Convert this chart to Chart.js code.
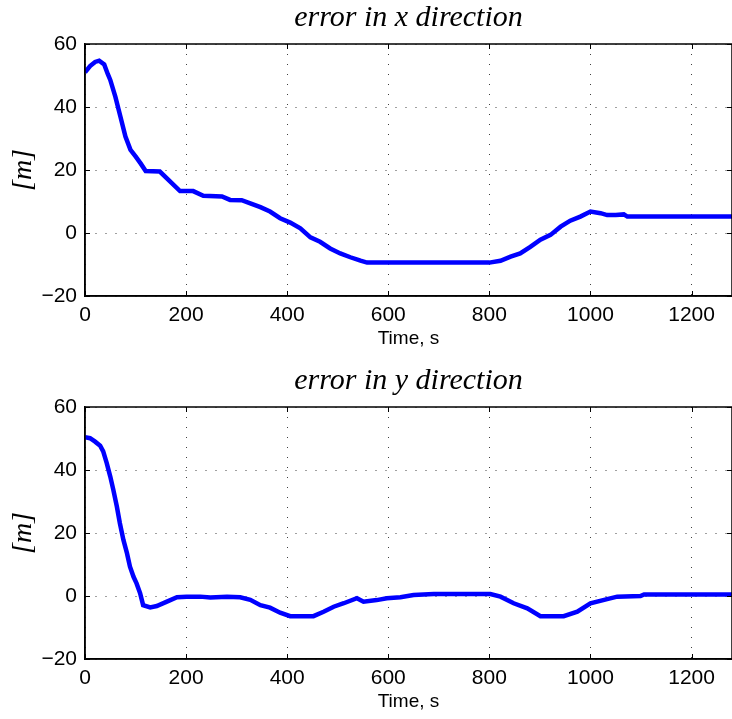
<!DOCTYPE html>
<html>
<head>
<meta charset="utf-8">
<script src="https://cdn.jsdelivr.net/npm/chart.js@4.4.1/dist/chart.umd.min.js"></script>
<style>
  html, body { margin: 0; padding: 0; background: #fff; overflow: hidden; }
  canvas { display: block; }
</style>
</head>
<body>
<canvas id="chartX" width="732" height="363"></canvas>
<canvas id="chartY" width="732" height="363"></canvas>
<script>
// x tick labels and y tick range shared by both panels
const timeTicks = [0, 200, 400, 600, 800, 1000, 1200];
const errTicks = [-20, 0, 20, 40, 60];

// error in x direction
const timeX = [0, 10, 20, 28, 38, 45, 50, 60, 70, 80, 90, 100, 110, 120, 148, 188, 214, 234, 271, 287,
  310, 327, 347, 366, 386, 406, 426, 446, 465, 485, 505, 525, 545, 558, 800, 822, 842, 861, 881, 901,
  921, 941, 960, 980, 1000, 1020, 1033, 1050, 1066, 1073, 1280];
const errX = [51, 53, 54.3, 54.7, 53.5, 50.5, 48.6, 43.3, 37, 30.6, 26.4, 24.3, 22.1, 19.7, 19.5, 13.3, 13.3, 11.8, 11.6, 10.5,
  10.4, 9.4, 8.2, 6.8, 4.7, 3.3, 1.5, -1.4, -2.8, -4.9, -6.5, -7.7, -8.8, -9.4, -9.4, -8.8, -7.5, -6.5, -4.4, -2.1,
  -0.6, 2, 3.9, 5.2, 6.8, 6.3, 5.7, 5.7, 5.9, 5.2, 5.2];

// error in y direction
const timeY = [0, 10, 20, 30, 36, 43, 50, 56, 63, 69, 76, 83, 89, 96, 102, 109, 115, 129, 142, 162,
  182, 201, 228, 248, 281, 307, 327, 347, 366, 386, 406, 452, 472, 492, 512, 538, 551, 577, 597, 624,
  650, 690, 756, 802, 822, 848, 875, 901, 947, 974, 1000, 1033, 1053, 1099, 1106, 1280];
const errY = [50.4, 50.1, 49, 47.7, 45.9, 42.2, 37.9, 33.7, 28.4, 23.1, 17.8, 13.6, 9.3, 6.1, 4, 0.9, -2.9, -3.6, -3.2, -1.8,
  -0.4, -0.2, -0.2, -0.5, -0.2, -0.4, -1.2, -2.9, -3.7, -5.3, -6.4, -6.4, -5, -3.4, -2.3, -0.7, -1.8, -1.3, -0.7, -0.4,
  0.3, 0.6, 0.6, 0.6, -0.2, -2.3, -3.9, -6.4, -6.4, -5, -2.3, -1, -0.2, 0, 0.5, 0.5];

// box round the plot + short inward ticks, like matlab axes
const axesBox = {
  id: "axesBox",
  afterDatasetsDraw(chart) {
    const { ctx, chartArea: a, scales } = chart;
    ctx.save();
    ctx.strokeStyle = "#000";
    ctx.lineWidth = 1.5;
    ctx.strokeRect(a.left, a.top, a.right - a.left, a.bottom - a.top);
    ctx.lineWidth = 1;
    ctx.beginPath();
    timeTicks.forEach((v) => {
      const px = Math.round(scales.x.getPixelForValue(v)) + 0.5;
      ctx.moveTo(px, a.bottom); ctx.lineTo(px, a.bottom - 5);
      ctx.moveTo(px, a.top); ctx.lineTo(px, a.top + 5);
    });
    errTicks.forEach((v) => {
      const py = Math.round(scales.y.getPixelForValue(v)) + 0.5;
      ctx.moveTo(a.left, py); ctx.lineTo(a.left + 5, py);
      ctx.moveTo(a.right, py); ctx.lineTo(a.right - 5, py);
    });
    ctx.stroke();
    ctx.restore();
  },
};

function makeChart(id, title, times, values) {
  return new Chart(document.getElementById(id), {
    type: "line",
    data: {
      datasets: [{
        data: times.map((t, i) => ({ x: t, y: values[i] })),
        borderColor: "#0000ff",
        borderWidth: 4.5,
        pointRadius: 0,
        tension: 0,
        fill: false,
      }],
    },
    options: {
      responsive: false,
      animation: false,
      devicePixelRatio: 1,
      layout: { padding: 0 },
      plugins: {
        legend: { display: false },
        tooltip: { enabled: false },
        title: {
          display: true,
          text: title,
          fullSize: false,
          color: "#000",
          font: { family: "'Liberation Serif', 'Times New Roman', serif", style: "italic", weight: "normal", size: 30 },
          lineHeight: 1.2,
          padding: { top: 0, bottom: 8 },
        },
      },
      scales: {
        x: {
          type: "linear",
          min: 0,
          max: 1280,
          afterBuildTicks: (s) => { s.ticks = timeTicks.map((v) => ({ value: v })); },
          afterFit: (s) => { s.height = 67; },
          ticks: {
            color: "#000",
            padding: 7,
            maxRotation: 0,
            font: { family: "'Liberation Sans', Arial, sans-serif", size: 21 },
            callback: (v) => String(v),
          },
          grid: { color: "rgba(0,0,0,0.75)", lineWidth: 1, drawTicks: false },
          border: { color: "#000", width: 1.5, dash: [1, 9] },
          title: {
            display: true,
            text: "Time, s",
            color: "#000",
            font: { family: "'Liberation Sans', Arial, sans-serif", size: 19 },
            padding: { top: 0, bottom: 12.6 },
          },
        },
        y: {
          type: "linear",
          min: -20,
          max: 60,
          afterBuildTicks: (s) => { s.ticks = errTicks.map((v) => ({ value: v })); },
          afterFit: (s) => { s.width = 85; },
          ticks: {
            color: "#000",
            padding: 8,
            font: { family: "'Liberation Sans', Arial, sans-serif", size: 21 },
            callback: (v) => (v < 0 ? "\u2212" + Math.abs(v) : String(v)),
          },
          grid: { color: "rgba(0,0,0,0.75)", lineWidth: 1, drawTicks: false },
          border: { color: "#000", width: 1.5, dash: [1, 9] },
          title: {
            display: true,
            text: "[m]",
            color: "#000",
            font: { family: "'Liberation Serif', 'Times New Roman', serif", style: "italic", size: 28 },
            padding: { top: 7, bottom: 0 },
          },
        },
      },
    },
    plugins: [axesBox],
  });
}

makeChart("chartX", "error in x direction", timeX, errX);
makeChart("chartY", "error in y direction", timeY, errY);
</script>
</body>
</html>
